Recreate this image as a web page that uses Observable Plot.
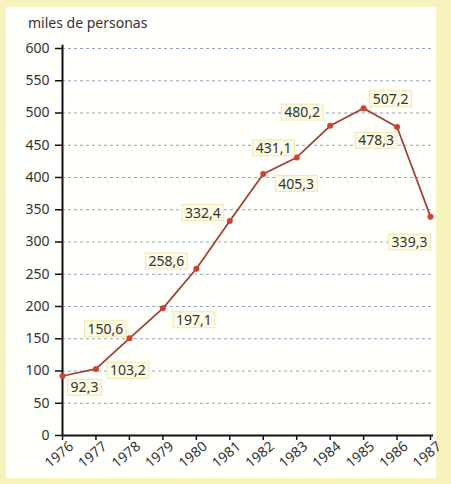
<!DOCTYPE html>
<html><head><meta charset="utf-8">
<script src="https://cdn.jsdelivr.net/npm/d3@7"></script>
<script src="https://cdn.jsdelivr.net/npm/@observablehq/plot@0.6"></script>
<style>
body{margin:0;background:#f8f3bd;width:451px;height:484px;overflow:hidden;position:relative;}
#frame{position:absolute;left:6px;top:7px;width:430px;height:471px;background:#fffffc;}
#chart{position:absolute;left:0;top:0;}
#title{position:absolute;left:28px;top:13px;font:14px "Noto Sans";color:#333;}
</style></head><body>
<div id="frame"></div>
<div id="chart"></div>
<div id="title">miles de personas</div>
<script>
const years = [1976,1977,1978,1979,1980,1981,1982,1983,1984,1985,1986,1987];
const values = [92.3,103.2,150.6,197.1,258.6,332.4,405.3,431.1,480.2,507.2,478.3,339.3];
const valueLabels = ["92,3","103,2","150,6","197,1","258,6","332,4","405,3","431,1","480,2","507,2","478,3","339,3"];
const yTicks = [0,50,100,150,200,250,300,350,400,450,500,550,600];

// label placement (pixels from the point), layout only
const labelOffsets = [[22,12],[32,2],[-24,-9],[31,12],[-30,-7],[-27,-8],[33,10],[-23,-9],[-28,-13],[27,-9],[-21,14],[-21,26]];

const data = years.map((y,i)=>({year:y, value:values[i], label:valueLabels[i]}));

const labelMarks = data.map((d,i)=>Plot.text([d],{x:"year",y:"value",text:"label",
  dx:labelOffsets[i][0], dy:labelOffsets[i][1], fill:"#333", fontSize:14, lineAnchor:"middle", textAnchor:"middle"}));

const chart = Plot.plot({
  width:451, height:484,
  marginLeft:62, marginRight:21, marginTop:48, marginBottom:49,
  style:{background:"transparent", fontFamily:"Noto Sans", fontSize:"14px", color:"#333", overflow:"visible"},
  x:{domain:[1976,1987], label:null},
  y:{domain:[0,600], label:null},
  marks:[
    Plot.ruleY(yTicks.filter(d=>d>0), {stroke:"#93a3b9", strokeDasharray:"3,3", strokeWidth:1, insetRight:-4}),
    Plot.axisY({ticks:yTicks, tickSize:7, tickPadding:6, label:null, fontSize:14, stroke:"#111", strokeWidth:1.5}),
    Plot.axisX({ticks:years, tickSize:5, label:null, stroke:"#111", strokeWidth:1.5, text:null}),
    Plot.axisX({ticks:years, tickSize:0, tickRotate:-40, tickFormat:d=>String(d), label:null, tickPadding:0, fontSize:14, dx:9, dy:9}),
    Plot.ruleX([1976],{y1:0, y2:605, stroke:"#111", strokeWidth:2}),
    Plot.ruleY([0],{stroke:"#111", strokeWidth:2, insetRight:-3}),
    Plot.line(data,{x:"year", y:"value", stroke:"#a33d31", strokeWidth:1.7}),
    Plot.dot(data,{x:"year", y:"value", r:3, fill:"#d3402f"}),
    ...labelMarks
  ]
});
document.getElementById("chart").appendChild(chart);

// add pale boxes behind the value labels
d3.select(chart).selectAll("g[aria-label='text'] text").each(function(){
  const b = this.getBBox();
  const t = this.getAttribute("transform");
  const cy = b.y + b.height*0.52;
  const rect = document.createElementNS("http://www.w3.org/2000/svg","rect");
  rect.setAttribute("x", b.x-3);
  rect.setAttribute("y", cy-8);
  rect.setAttribute("width", b.width+6);
  rect.setAttribute("height", 16);
  rect.setAttribute("fill", "#fdfbe4");
  rect.setAttribute("stroke", "#efe8b4");
  rect.setAttribute("stroke-width", "1");
  if (t) rect.setAttribute("transform", t);
  this.parentNode.insertBefore(rect, this);
});
</script>
</body></html>
